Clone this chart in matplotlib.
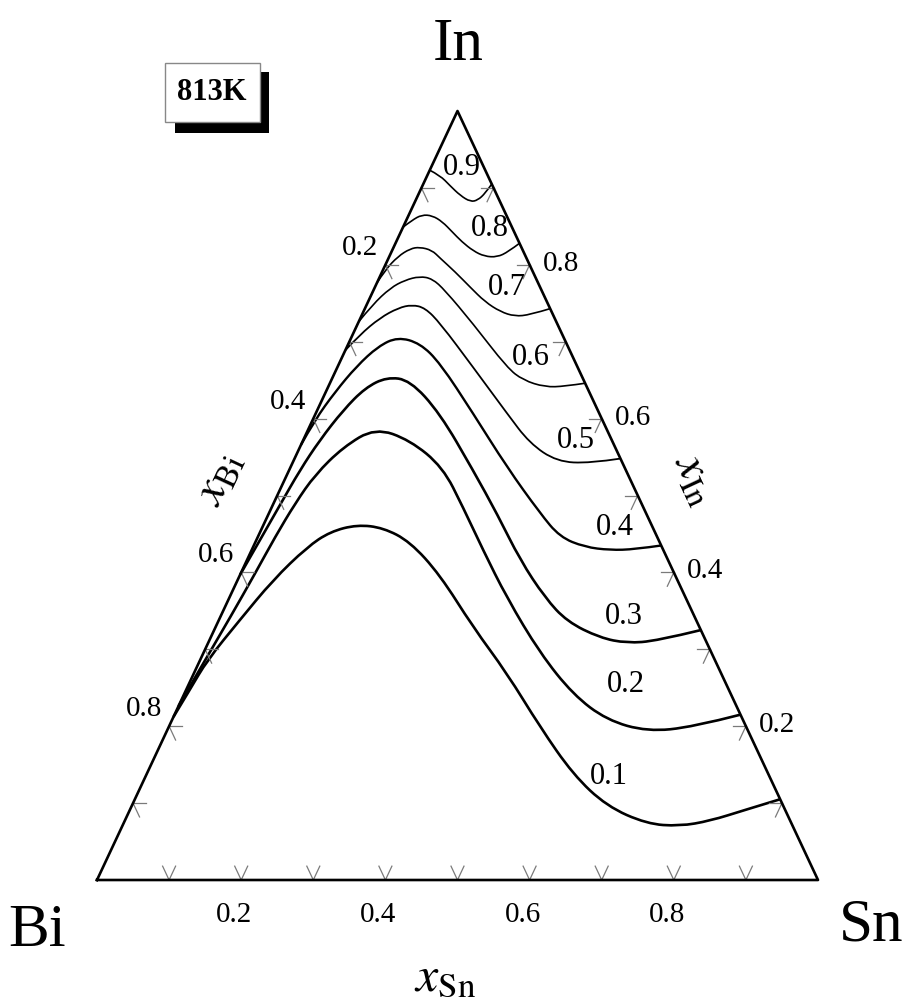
import numpy as np
import matplotlib.pyplot as plt
from matplotlib.patches import Rectangle, PathPatch
from matplotlib.path import Path

plt.rcParams['font.family'] = ['Liberation Serif', 'DejaVu Serif']
plt.rcParams['mathtext.fontset'] = 'stix'

# iso-lines at 813 K, compositions (x_Sn, x_In)
levels = ['0.1', '0.2', '0.3', '0.4', '0.5', '0.6', '0.7', '0.8', '0.9']

c01_sn = [0.000, 0.005, 0.010, 0.029, 0.049, 0.075, 0.097, 0.130, 0.168, 0.214, 0.277,
          0.357, 0.434, 0.515, 0.592, 0.659, 0.726, 0.773, 0.812, 0.853, 0.895]
c01_in = [0.212, 0.247, 0.286, 0.338, 0.390, 0.433, 0.453, 0.462, 0.458, 0.440, 0.397,
          0.329, 0.269, 0.199, 0.137, 0.096, 0.073, 0.070, 0.077, 0.091, 0.105]

c02_sn = [0.000, 0.007, 0.014, 0.020, 0.024, 0.030, 0.039, 0.060, 0.092, 0.148, 0.211,
          0.266, 0.321, 0.385, 0.467, 0.540, 0.603, 0.667, 0.727, 0.785]
c02_in = [0.226, 0.286, 0.342, 0.399, 0.446, 0.490, 0.527, 0.563, 0.588, 0.572, 0.537,
          0.484, 0.429, 0.367, 0.295, 0.241, 0.208, 0.193, 0.199, 0.215]

c03_sn = [0.000, 0.005, 0.010, 0.015, 0.023, 0.036, 0.052, 0.075, 0.109, 0.172, 0.255,
          0.318, 0.379, 0.438, 0.484, 0.540, 0.581, 0.621, 0.675]
c03_in = [0.397, 0.442, 0.488, 0.533, 0.572, 0.611, 0.640, 0.654, 0.650, 0.607, 0.533,
          0.475, 0.416, 0.367, 0.336, 0.315, 0.308, 0.311, 0.325]

c04_sn = [0.000, 0.003, 0.013, 0.026, 0.043, 0.064, 0.099, 0.140, 0.218, 0.300, 0.376,
          0.419, 0.460, 0.497, 0.531, 0.565]
c04_in = [0.566, 0.598, 0.635, 0.668, 0.694, 0.706, 0.698, 0.672, 0.607, 0.537, 0.477,
          0.446, 0.433, 0.429, 0.430, 0.435]

c05_sn = [0.000, 0.010, 0.027, 0.046, 0.063, 0.083, 0.114, 0.188, 0.265, 0.316, 0.366,
          0.413, 0.452]
c05_in = [0.689, 0.709, 0.731, 0.744, 0.748, 0.744, 0.724, 0.667, 0.607, 0.568, 0.544,
          0.542, 0.548]

c06_sn = [0.000, 0.008, 0.022, 0.037, 0.055, 0.074, 0.099, 0.159, 0.236, 0.266, 0.301,
          0.328, 0.354]
c06_in = [0.726, 0.748, 0.770, 0.780, 0.785, 0.782, 0.767, 0.724, 0.666, 0.650, 0.641,
          0.642, 0.646]

c07_sn = [0.000, 0.003, 0.012, 0.024, 0.036, 0.055, 0.071, 0.101, 0.132, 0.162, 0.190,
          0.213, 0.233, 0.257]
c07_in = [0.776, 0.793, 0.811, 0.821, 0.823, 0.819, 0.809, 0.791, 0.771, 0.752, 0.739,
          0.733, 0.735, 0.743]

c08_sn = [0.000, 0.008, 0.018, 0.033, 0.051, 0.071, 0.091, 0.113, 0.132, 0.150, 0.162, 0.172]
c08_in = [0.849, 0.858, 0.865, 0.864, 0.856, 0.843, 0.830, 0.818, 0.811, 0.810, 0.817, 0.828]

c09_sn = [0.000, 0.018, 0.038, 0.059, 0.077, 0.086, 0.092, 0.095]
c09_in = [0.923, 0.916, 0.903, 0.890, 0.882, 0.884, 0.893, 0.905]

curves_sn = [c01_sn, c02_sn, c03_sn, c04_sn, c05_sn, c06_sn, c07_sn, c08_sn, c09_sn]
curves_in = [c01_in, c02_in, c03_in, c04_in, c05_in, c06_in, c07_in, c08_in, c09_in]

tick_vals = [0.1, 0.2, 0.3, 0.4, 0.5, 0.6, 0.7, 0.8, 0.9]
label_vals = [0.2, 0.4, 0.6, 0.8]


def tern(sn, inn):
    sn = np.asarray(sn, dtype=float)
    inn = np.asarray(inn, dtype=float)
    return sn + inn / 2.0, inn


def smooth_path(x, y):
    # quadratic bezier through midpoints, the read points act as controls
    p = np.column_stack([x, y])
    verts = [p[0]]
    codes = [Path.MOVETO]
    for k in range(1, len(p) - 2):
        verts += [p[k], (p[k] + p[k + 1]) / 2]
        codes += [Path.CURVE3, Path.CURVE3]
    verts += [p[-2], p[-1]]
    codes += [Path.CURVE3, Path.CURVE3]
    return Path(verts, codes)


fig = plt.figure(figsize=(9.02, 10.08), dpi=100)
ax = fig.add_axes([97 / 902, 128 / 1008, 721 / 902, 769 / 1008])
ax.set_xlim(0, 1)
ax.set_ylim(0, 1)
ax.axis('off')

# triangle frame
fx, fy = tern([0, 1, 0, 0], [0, 0, 1, 0])
ax.plot(fx, fy, color='black', lw=1.9, clip_on=False, zorder=3)

# iso-lines
widths = [1.9, 1.9, 1.9, 1.7, 1.3, 1.2, 1.2, 1.2, 1.2]
for sn, inn, w in zip(curves_sn, curves_in, widths):
    x, y = tern(sn, inn)
    ax.add_patch(PathPatch(smooth_path(x, y), fill=False, edgecolor='black', lw=w,
                           clip_on=False, zorder=2))

# curve labels (axes-fraction anchors)
lab_x = [0.710, 0.734, 0.731, 0.718, 0.664, 0.602, 0.569, 0.545, 0.506]
lab_y = [0.135, 0.254, 0.343, 0.459, 0.572, 0.679, 0.771, 0.847, 0.926]
for t, lx, ly in zip(levels, lab_x, lab_y):
    ax.text(lx, ly, t, fontsize=22, ha='center', va='center', zorder=4)

# ternary ticks
d = 0.018
tc = '#7a7a7a'
for v in tick_vals:
    # bottom (x_Sn)
    for a, b in [((v, 0), (v, d)), ((v, 0), (v - d, d))]:
        x, y = tern([a[0], b[0]], [a[1], b[1]])
        ax.plot(x, y, color=tc, lw=0.9, clip_on=False)
    # left (x_Bi)
    for a, b in [((0, v), (d, v)), ((0, v), (d, v - d))]:
        x, y = tern([a[0], b[0]], [a[1], b[1]])
        ax.plot(x, y, color=tc, lw=0.9, clip_on=False)
    # right (x_In)
    s = 1 - v
    for a, b in [((s, v), (s - d, v)), ((s, v), (s, v - d))]:
        x, y = tern([a[0], b[0]], [a[1], b[1]])
        ax.plot(x, y, color=tc, lw=0.9, clip_on=False)

for v in label_vals:
    lbl = f'{v:.1f}'
    x, y = tern(v, 0)
    ax.annotate(lbl, (x, y), xytext=(-7, -35), textcoords='offset pixels',
                ha='center', va='center', fontsize=21)
    x, y = tern(0, 1 - v)
    ax.annotate(lbl, (x, y), xytext=(-25, 17), textcoords='offset pixels',
                ha='center', va='center', fontsize=21)
    x, y = tern(1 - v, v)
    ax.annotate(lbl, (x, y), xytext=(31, 1), textcoords='offset pixels',
                ha='center', va='center', fontsize=21)

# corner labels
for name, sn, inn, off in [('Bi', 0, 0, (-60, -51)), ('Sn', 1, 0, (53, -46)),
                           ('In', 0, 1, (1, 66))]:
    x, y = tern(sn, inn)
    ax.annotate(name, (x, y), xytext=off, textcoords='offset pixels',
                ha='center', va='center', fontsize=44)

# axis titles
x, y = tern(0.5, 0)
ax.annotate(r'$x_{\mathrm{Sn}}$', (x, y), xytext=(-12, -98), textcoords='offset pixels',
            ha='center', va='center', fontsize=36)
x, y = tern(0, 0.5)
ax.annotate(r'$x_{\mathrm{Bi}}$', (x, y), xytext=(-57, 17), textcoords='offset pixels',
            ha='center', va='center', fontsize=34, rotation=65)
x, y = tern(0.5, 0.5)
ax.annotate(r'$x_{\mathrm{In}}$', (x, y), xytext=(57, 17), textcoords='offset pixels',
            ha='center', va='center', fontsize=34, rotation=-65)

# temperature box with shadow
fig.add_artist(Rectangle((175 / 902, 1 - 133 / 1008), 94 / 902, 61 / 1008,
                         transform=fig.transFigure, facecolor='black', edgecolor='none'))
fig.add_artist(Rectangle((165 / 902, 1 - 122 / 1008), 95 / 902, 59 / 1008,
                         transform=fig.transFigure, facecolor='white', edgecolor='#888888', lw=1))
fig.text(212 / 902, 1 - 93 / 1008, '813K', fontsize=22, fontweight='bold',
         ha='center', va='center')

fig.savefig('out.png', dpi=100)
